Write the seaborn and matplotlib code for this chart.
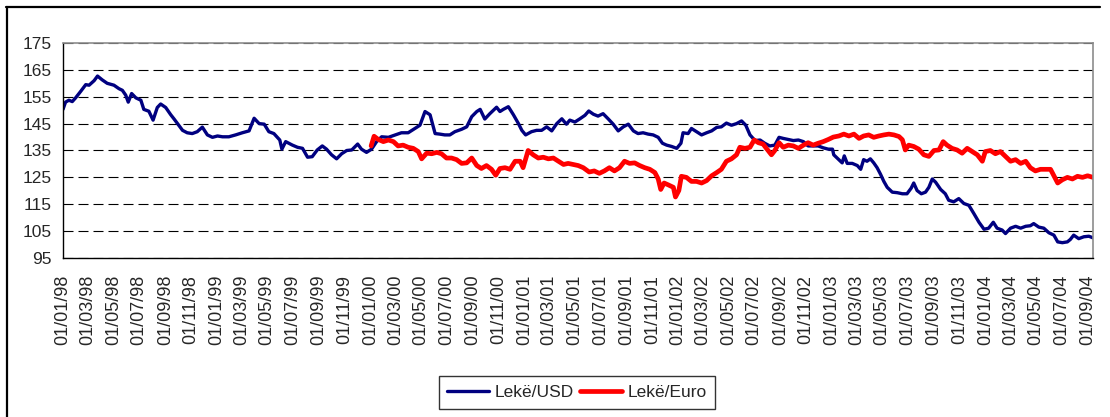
import matplotlib
matplotlib.use("Agg")
import matplotlib.pyplot as plt
import matplotlib.dates as mdates
from matplotlib.lines import Line2D
import pandas as pd
import seaborn as sns

usd_dates = [
    "1998-01-01", "1998-01-07", "1998-01-15", "1998-01-23", "1998-01-31", "1998-02-12", "1998-02-24",
    "1998-03-04", "1998-03-16", "1998-03-24", "1998-04-04", "1998-04-16", "1998-05-02", "1998-05-14",
    "1998-05-22", "1998-05-30", "1998-06-05", "1998-06-13", "1998-06-23", "1998-07-05", "1998-07-12",
    "1998-07-24", "1998-08-03", "1998-08-13", "1998-08-21", "1998-09-02", "1998-09-14", "1998-09-22",
    "1998-09-30", "1998-10-12", "1998-10-23", "1998-11-04", "1998-11-16", "1998-11-28", "1998-12-10",
    "1998-12-22", "1999-01-03", "1999-01-15", "1999-01-30", "1999-02-15", "1999-03-03", "1999-03-19",
    "1999-03-31", "1999-04-12", "1999-04-24", "1999-05-05", "1999-05-17", "1999-05-31", "1999-06-05",
    "1999-06-14", "1999-06-30", "1999-07-12", "1999-07-24", "1999-08-05", "1999-08-16", "1999-08-28",
    "1999-09-09", "1999-09-19", "1999-10-01", "1999-10-13", "1999-10-25", "1999-11-06", "1999-11-18",
    "1999-12-02", "1999-12-11", "1999-12-23", "2000-01-04", "2000-01-16", "2000-01-28", "2000-02-13",
    "2000-02-29", "2000-03-15", "2000-03-31", "2000-04-16", "2000-04-28", "2000-05-10", "2000-05-22",
    "2000-06-03", "2000-06-14", "2000-06-26", "2000-07-08", "2000-07-20", "2000-08-05", "2000-08-17",
    "2000-08-29", "2000-09-10", "2000-09-18", "2000-09-29", "2000-10-11", "2000-10-27", "2000-11-04",
    "2000-11-12", "2000-11-24", "2000-12-06", "2000-12-18", "2000-12-26", "2001-01-04", "2001-01-18",
    "2001-01-30", "2001-02-11", "2001-02-23", "2001-03-07", "2001-03-19", "2001-03-31", "2001-04-11",
    "2001-04-19", "2001-05-01", "2001-05-13", "2001-05-25", "2001-06-03", "2001-06-14", "2001-06-25",
    "2001-07-07", "2001-07-19", "2001-07-31", "2001-08-12", "2001-08-24", "2001-09-05", "2001-09-17",
    "2001-09-28", "2001-10-10", "2001-10-22", "2001-11-03", "2001-11-15", "2001-11-25", "2001-12-05",
    "2001-12-17", "2001-12-29", "2002-01-08", "2002-01-13", "2002-01-25", "2002-02-02", "2002-02-14",
    "2002-02-26", "2002-03-10", "2002-03-22", "2002-04-03", "2002-04-14", "2002-04-26", "2002-05-08",
    "2002-05-20", "2002-06-01", "2002-06-11", "2002-06-21", "2002-07-03", "2002-07-15", "2002-07-26",
    "2002-08-07", "2002-08-19", "2002-08-29", "2002-09-08", "2002-09-20", "2002-10-02", "2002-10-14",
    "2002-10-26", "2002-11-06", "2002-11-18", "2002-11-30", "2002-12-12", "2002-12-24", "2003-01-03",
    "2003-01-06", "2003-01-18", "2003-01-26", "2003-01-31", "2003-02-07", "2003-02-19", "2003-03-03",
    "2003-03-11", "2003-03-18", "2003-03-26", "2003-04-03", "2003-04-11", "2003-04-19", "2003-04-27",
    "2003-05-05", "2003-05-13", "2003-05-25", "2003-06-06", "2003-06-18", "2003-06-29", "2003-07-09",
    "2003-07-15", "2003-07-23", "2003-08-02", "2003-08-12", "2003-08-20", "2003-08-28", "2003-09-05",
    "2003-09-17", "2003-09-28", "2003-10-06", "2003-10-18", "2003-10-30", "2003-11-11", "2003-11-23",
    "2003-12-05", "2003-12-17", "2003-12-29", "2004-01-09", "2004-01-20", "2004-01-29", "2004-02-10",
    "2004-02-18", "2004-03-01", "2004-03-13", "2004-03-25", "2004-04-06", "2004-04-17", "2004-04-25",
    "2004-05-07", "2004-05-19", "2004-05-31", "2004-06-12", "2004-06-21", "2004-07-02", "2004-07-14",
    "2004-07-21", "2004-07-29", "2004-08-10", "2004-08-22", "2004-09-03", "2004-09-13",
]
usd_values = [
    150.3, 153.0, 153.7, 153.2, 154.6, 157.0, 159.5,
    159.3, 161.0, 162.7, 161.3, 160.0, 159.3, 158.0,
    157.4, 155.6, 153.0, 156.2, 154.6, 153.7, 150.3,
    149.6, 146.3, 151.0, 152.3, 151.0, 148.3, 146.7,
    145.0, 142.5, 141.6, 141.3, 142.0, 143.7, 140.8,
    139.9, 140.4, 140.1, 140.1, 140.8, 141.6, 142.3,
    147.0, 145.0, 144.8, 142.0, 141.3, 138.9, 135.5,
    138.3, 137.0, 136.2, 135.8, 132.5, 132.7, 135.2,
    136.7, 135.5, 133.4, 131.9, 133.8, 135.0, 135.2,
    137.4, 135.5, 134.3, 135.5, 138.3, 140.1, 139.9,
    140.8, 141.6, 141.6, 143.2, 144.4, 149.5, 148.3,
    141.3, 141.1, 140.8, 140.8, 142.0, 142.9, 143.8,
    147.6, 149.5, 150.3, 146.7, 148.7, 151.1, 149.5,
    150.3, 151.3, 148.3, 145.0, 142.5, 140.8, 142.0,
    142.5, 142.5, 143.8, 142.3, 145.0, 146.8, 144.8,
    146.3, 145.6, 146.8, 148.1, 149.7, 148.5, 147.8,
    148.7, 146.8, 144.8, 142.3, 143.8, 144.8, 142.3,
    141.3, 141.6, 141.1, 140.8, 139.9, 137.7, 137.0,
    136.5, 135.8, 137.7, 141.6, 141.3, 143.2, 142.0,
    140.8, 141.6, 142.3, 143.6, 143.8, 145.2, 144.4,
    145.0, 146.0, 144.4, 140.8, 138.7, 138.9, 137.7,
    136.7, 137.0, 139.9, 139.5, 139.1, 138.7, 138.9,
    138.3, 136.7, 136.7, 136.7, 136.0, 135.5, 135.5,
    133.4, 131.6, 130.4, 133.0, 130.2, 130.2, 129.4,
    128.0, 131.6, 131.0, 131.9, 130.4, 128.6, 126.2,
    123.5, 121.3, 119.5, 119.3, 118.9, 118.9, 121.0,
    122.9, 120.1, 118.9, 119.5, 121.3, 124.4, 123.2,
    120.5, 118.9, 116.5, 115.9, 117.1, 115.3, 114.6,
    111.5, 108.3, 105.7, 106.1, 108.3, 106.1, 105.4,
    104.1, 106.1, 106.8, 106.1, 106.8, 107.0, 107.8,
    106.5, 106.1, 104.4, 103.5, 101.0, 100.7, 101.0,
    101.9, 103.5, 102.2, 102.9, 103.1, 102.5,
]

eur_dates = [
    "2000-01-03", "2000-01-10", "2000-01-20", "2000-02-01", "2000-02-13", "2000-02-25", "2000-03-07",
    "2000-03-19", "2000-03-31", "2000-04-12", "2000-04-24", "2000-05-02", "2000-05-14", "2000-05-26",
    "2000-06-07", "2000-06-18", "2000-06-30", "2000-07-12", "2000-07-24", "2000-08-05", "2000-08-17",
    "2000-08-29", "2000-09-10", "2000-09-21", "2000-10-03", "2000-10-15", "2000-10-25", "2000-11-04",
    "2000-11-16", "2000-11-28", "2000-12-10", "2000-12-22", "2000-12-29", "2001-01-10", "2001-01-22",
    "2001-02-03", "2001-02-15", "2001-02-27", "2001-03-11", "2001-03-23", "2001-04-04", "2001-04-15",
    "2001-04-27", "2001-05-09", "2001-05-21", "2001-06-04", "2001-06-16", "2001-06-28", "2001-07-10",
    "2001-07-22", "2001-08-03", "2001-08-15", "2001-08-27", "2001-09-08", "2001-09-20", "2001-10-02",
    "2001-10-14", "2001-10-26", "2001-11-07", "2001-11-15", "2001-11-21", "2001-11-29", "2001-12-09",
    "2001-12-21", "2001-12-26", "2002-01-03", "2002-01-09", "2002-01-21", "2002-02-02", "2002-02-14",
    "2002-02-26", "2002-03-10", "2002-03-22", "2002-04-03", "2002-04-14", "2002-04-26", "2002-05-08",
    "2002-05-20", "2002-05-28", "2002-06-09", "2002-06-21", "2002-07-01", "2002-07-11", "2002-07-22",
    "2002-08-03", "2002-08-11", "2002-08-19", "2002-08-29", "2002-09-08", "2002-09-20", "2002-10-02",
    "2002-10-14", "2002-10-26", "2002-11-06", "2002-11-18", "2002-11-30", "2002-12-12", "2002-12-24",
    "2003-01-05", "2003-01-18", "2003-01-30", "2003-02-11", "2003-02-23", "2003-03-07", "2003-03-18",
    "2003-03-30", "2003-04-11", "2003-04-23", "2003-05-05", "2003-05-17", "2003-05-29", "2003-06-10",
    "2003-06-18", "2003-06-25", "2003-07-03", "2003-07-15", "2003-07-27", "2003-08-08", "2003-08-20",
    "2003-09-01", "2003-09-13", "2003-09-23", "2003-10-02", "2003-10-14", "2003-10-26", "2003-11-07",
    "2003-11-19", "2003-12-01", "2003-12-13", "2003-12-25", "2004-01-01", "2004-01-13", "2004-01-25",
    "2004-02-06", "2004-02-18", "2004-03-01", "2004-03-13", "2004-03-25", "2004-04-06", "2004-04-17",
    "2004-04-29", "2004-05-11", "2004-05-23", "2004-06-04", "2004-06-12", "2004-06-21", "2004-07-02",
    "2004-07-14", "2004-07-26", "2004-08-07", "2004-08-19", "2004-08-31", "2004-09-13",
]
eur_values = [
    136.7, 140.3, 139.1, 138.3, 138.9, 138.3, 136.7,
    137.0, 136.2, 135.8, 134.6, 131.9, 134.0, 133.8,
    134.3, 133.8, 132.2, 132.2, 131.6, 130.2, 130.4,
    132.2, 129.4, 128.3, 129.4, 128.0, 125.8, 128.3,
    128.6, 128.0, 131.0, 131.0, 128.6, 135.0, 133.4,
    132.2, 132.5, 131.9, 132.2, 131.0, 129.8, 130.2,
    129.8, 129.4, 128.6, 127.0, 127.4, 126.5, 127.4,
    128.6, 127.4, 128.6, 131.0, 130.2, 130.4, 129.4,
    128.6, 128.0, 126.8, 124.4, 120.5, 122.9, 122.2,
    121.3, 117.7, 120.1, 125.4, 125.0, 123.5, 123.5,
    122.9, 123.8, 125.6, 126.8, 128.0, 131.0, 131.9,
    133.4, 136.2, 135.8, 136.2, 138.9, 137.9, 137.4,
    135.0, 133.4, 135.0, 137.9, 136.2, 137.0, 136.7,
    135.8, 137.0, 137.9, 137.0, 137.7, 138.3, 139.1,
    140.0, 140.4, 141.1, 140.4, 141.1, 139.5, 140.4,
    140.8, 139.9, 140.4, 140.8, 141.1, 140.8, 140.2,
    139.0, 135.2, 137.0, 136.5, 135.5, 133.4, 132.8,
    135.0, 135.2, 138.3, 137.0, 135.8, 135.2, 134.0,
    135.8, 134.6, 133.4, 131.0, 134.6, 135.0, 133.8,
    134.6, 132.8, 131.0, 131.6, 130.2, 131.0, 128.6,
    127.4, 128.0, 128.0, 128.0, 125.6, 122.9, 124.1,
    125.0, 124.4, 125.4, 125.0, 125.6, 125.0,
]

series_labels = ["Lekë/USD", "Lekë/Euro"]
y_ticks = [95, 105, 115, 125, 135, 145, 155, 165, 175]

sns.set_style("white")
plt.rcParams["font.family"] = ["Liberation Sans", "DejaVu Sans"]

df_usd = pd.DataFrame({"date": pd.to_datetime(usd_dates), "value": usd_values})
df_eur = pd.DataFrame({"date": pd.to_datetime(eur_dates), "value": eur_values})

W, H = 1110, 417
fig = plt.figure(figsize=(W / 100, H / 100), dpi=100)
fig.patch.set_facecolor("white")
ax = fig.add_axes([63 / W, 1 - 258 / H, (1093 - 63) / W, (258 - 43) / H])

sns.lineplot(data=df_usd, x="date", y="value", ax=ax, color="#000080",
             linewidth=2.4, label=series_labels[0])
sns.lineplot(data=df_eur, x="date", y="value", ax=ax, color="#FF0000",
             linewidth=3.4, label=series_labels[1])

x0 = pd.Timestamp("1998-01-01")
ax.set_xlim(x0, x0 + (pd.Timestamp("2004-09-01") - x0) * (1030 / 1025))
ax.set_ylim(95, 175)
ax.set_yticks(y_ticks)
ax.set_xlabel("")
ax.set_ylabel("")

ax.xaxis.set_major_locator(mdates.MonthLocator(bymonth=[1, 3, 5, 7, 9, 11]))
ax.xaxis.set_major_formatter(mdates.DateFormatter("%d/%m/%y"))
ax.tick_params(axis="x", direction="in", length=4, width=0.8, color="black",
               labelsize=13, rotation=90, pad=12)
ax.tick_params(axis="y", length=0, labelsize=12.5, pad=8)
for lbl in ax.get_xticklabels():
    lbl.set_verticalalignment("top")

ax.yaxis.grid(True, color="black", linewidth=0.8, linestyle=(0, (9, 4.5)))
ax.xaxis.grid(False)
ax.set_axisbelow(True)

for side in ["left", "bottom"]:
    ax.spines[side].set_color("black")
    ax.spines[side].set_linewidth(1.0)
for side in ["top", "right"]:
    ax.spines[side].set_color("#8c8c8c")
    ax.spines[side].set_linewidth(1.2)

leg = ax.legend(loc="center", bbox_to_anchor=(577 / W, 1 - 392.5 / H),
                bbox_transform=fig.transFigure, ncol=2, frameon=True,
                fontsize=12.5, handlelength=2.4, handletextpad=0.3,
                columnspacing=0.4, borderpad=0.5, fancybox=False)
leg.get_frame().set_edgecolor("black")
leg.get_frame().set_linewidth(1.0)
leg.get_frame().set_boxstyle("square", pad=0)

fig.add_artist(Line2D([6.5 / W, 6.5 / W], [0, 1 - 7 / H], transform=fig.transFigure,
                      color="black", linewidth=1.6))
fig.add_artist(Line2D([6 / W, 1100 / W], [1 - 7 / H, 1 - 7 / H], transform=fig.transFigure,
                      color="black", linewidth=1.6))

fig.savefig("out.png", dpi=100, facecolor="white")
